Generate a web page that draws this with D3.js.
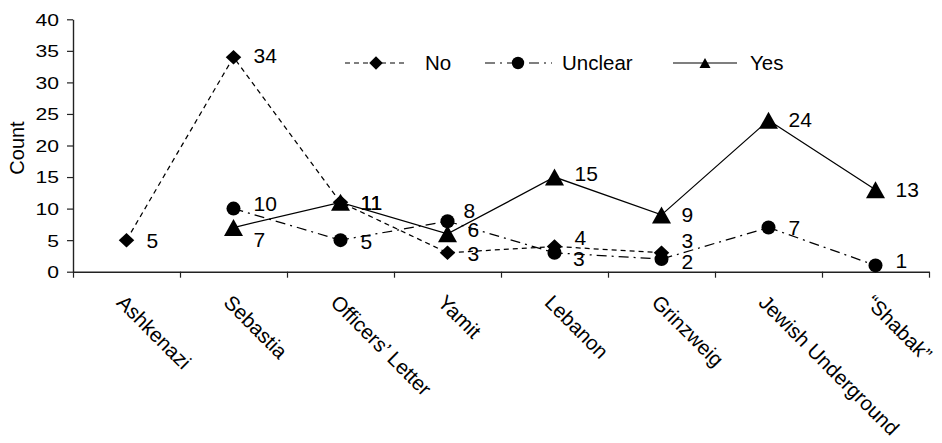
<!DOCTYPE html>
<html><head><meta charset="utf-8">
<script src="https://cdn.jsdelivr.net/npm/d3@7"></script>
<style>
body{margin:0;background:#fff}
svg text{font-family:"Liberation Sans",Arial,sans-serif;fill:#000}
</style>
</head><body>
<svg id="chart" width="942" height="443"></svg>
<script>
// ---- data ----
const categories = ["Ashkenazi","Sebastia","Officers\u2019 Letter","Yamit","Lebanon","Grinzweig","Jewish Underground","\u201CShabak\u201D"];
const noValues      = [5, 34, 11, 3, 4, 3, null, null];
const unclearValues = [null, 10, 5, 8, 3, 2, 7, 1];
const yesValues     = [null, 7, 11, 6, 15, 9, 24, 13];
const seriesNames   = ["No", "Unclear", "Yes"];
const yTicks        = [0, 5, 10, 15, 20, 25, 30, 35, 40];
const yTitle        = "Count";

// label nudges (manual placement in the original)
const labelNudge = {
  "No|1": [0,-2], "No|3": [0,1], "No|4": [0,-9], "No|5": [0,-12],
  "Unclear|1": [0,-5], "Unclear|2": [0,1.5], "Unclear|3": [-4,-11], "Unclear|4": [-1.5,5.5],
  "Unclear|5": [0,2.5], "Unclear|7": [0,-4.7],
  "Yes|1": [0,12], "Yes|3": [0,-4], "Yes|4": [0,-4], "Yes|6": [0,-1]
};

const svg = d3.select("#chart");
const plotLeft = 73, plotRight = 929, plotTop = 19.3, plotBottom = 271.7;

const x = d3.scaleBand().domain(categories).range([plotLeft, plotRight]);
const xEdge = d3.scaleLinear().domain([0, categories.length]).range([plotLeft, plotRight]);
const y = d3.scaleLinear().domain([0, 40]).range([plotBottom, plotTop]);
const cx = c => x(c) + x.bandwidth() / 2;

// y axis
const yAxis = svg.append("g").attr("transform", `translate(${plotLeft},0)`)
  .call(d3.axisLeft(y).tickValues(yTicks).tickSize(6).tickSizeOuter(0));
yAxis.select(".domain").attr("stroke", "#222").attr("stroke-width", 1.4);
yAxis.selectAll(".tick line").attr("stroke", "#222").attr("stroke-width", 1.2);
yAxis.selectAll(".tick text")
  .attr("x", 0).attr("dy", "0.36em")
  .attr("transform", "translate(-14,0) scale(1.28,1)")
  .style("font-size", "16.5px");
yAxis.attr("font-family", null).attr("font-size", null);

// x axis (boundary ticks)
const xAxis = svg.append("g").attr("transform", `translate(0,${plotBottom})`)
  .call(d3.axisBottom(xEdge).tickValues(d3.range(categories.length + 1)).tickSize(6).tickSizeOuter(0).tickFormat(""));
xAxis.select(".domain").attr("stroke", "#222").attr("stroke-width", 1.4);
xAxis.selectAll(".tick line").attr("stroke", "#222").attr("stroke-width", 1.2);

// category labels rotated 45deg
svg.append("g").selectAll("text").data(categories).join("text")
  .attr("transform", d => `translate(${cx(d) - 11},${plotBottom + 32}) rotate(45)`)
  .attr("text-anchor", "start")
  .style("font-size", "20.5px")
  .text(d => d);

// y title
svg.append("text")
  .attr("transform", `translate(24,148) rotate(-90)`)
  .attr("text-anchor", "middle")
  .style("font-size", "20px")
  .text(yTitle);

// marker generators
function diamond(w, h) { return `M0,${-h/2}L${w/2},0L0,${h/2}L${-w/2},0Z`; }
function triangle(w, h) { return `M0,${-h/2}L${w/2},${h/2}L${-w/2},${h/2}Z`; }
function drawMarker(g, type, px, py, small) {
  if (type === "No") {
    g.append("path").attr("d", small ? diamond(13.5, 13.5) : diamond(15.5, 14.5))
      .attr("transform", `translate(${px},${py})`).attr("fill", "#000");
  } else if (type === "Unclear") {
    g.append("circle").attr("cx", px).attr("cy", py).attr("r", small ? 6.2 : 7).attr("fill", "#000");
  } else {
    g.append("path").attr("d", small ? triangle(11, 10) : triangle(19, 17))
      .attr("transform", `translate(${px},${py})`).attr("fill", "#000");
  }
}

const dashes = { "No": "5,4", "Unclear": "10,5,2,5", "Yes": null };
const seriesData = [noValues, unclearValues, yesValues];

seriesData.forEach((vals, si) => {
  const name = seriesNames[si];
  const pts = categories.map((c, i) => ({ c, i, v: vals[i] }));
  const line = d3.line().defined(d => d.v != null).x(d => cx(d.c)).y(d => y(d.v));
  const g = svg.append("g");
  g.append("path").datum(pts).attr("d", line)
    .attr("fill", "none").attr("stroke", "#000").attr("stroke-width", 1.25)
    .attr("stroke-dasharray", dashes[name]);
  pts.filter(d => d.v != null).forEach(d => drawMarker(g, name, cx(d.c), y(d.v), false));
});

// data labels
seriesData.forEach((vals, si) => {
  const name = seriesNames[si];
  categories.forEach((c, i) => {
    if (vals[i] == null) return;
    const n = labelNudge[name + "|" + i] || [0, 0];
    svg.append("text")
      .attr("x", cx(c) + 20 + n[0])
      .attr("y", y(vals[i]) + n[1])
      .attr("dy", "0.36em")
      .style("font-size", "21px")
      .text(vals[i]);
  });
});

// legend
const legendItems = [
  { name: "No", x1: 345, x2: 405, mx: 376, tx: 425 },
  { name: "Unclear", x1: 485, x2: 552, mx: 518, tx: 562 },
  { name: "Yes", x1: 673, x2: 737, mx: 705, tx: 750 }
];
const ly = 63;
const lg = svg.append("g");
legendItems.forEach(it => {
  lg.append("line").attr("x1", it.x1).attr("x2", it.x2).attr("y1", ly).attr("y2", ly)
    .attr("stroke", "#000").attr("stroke-width", 1.2).attr("stroke-dasharray", dashes[it.name]);
  drawMarker(lg, it.name, it.mx, ly, true);
  lg.append("text").attr("x", it.tx).attr("y", ly).attr("dy", "0.36em")
    .style("font-size", "20.5px").text(it.name);
});
</script>
</body></html>
